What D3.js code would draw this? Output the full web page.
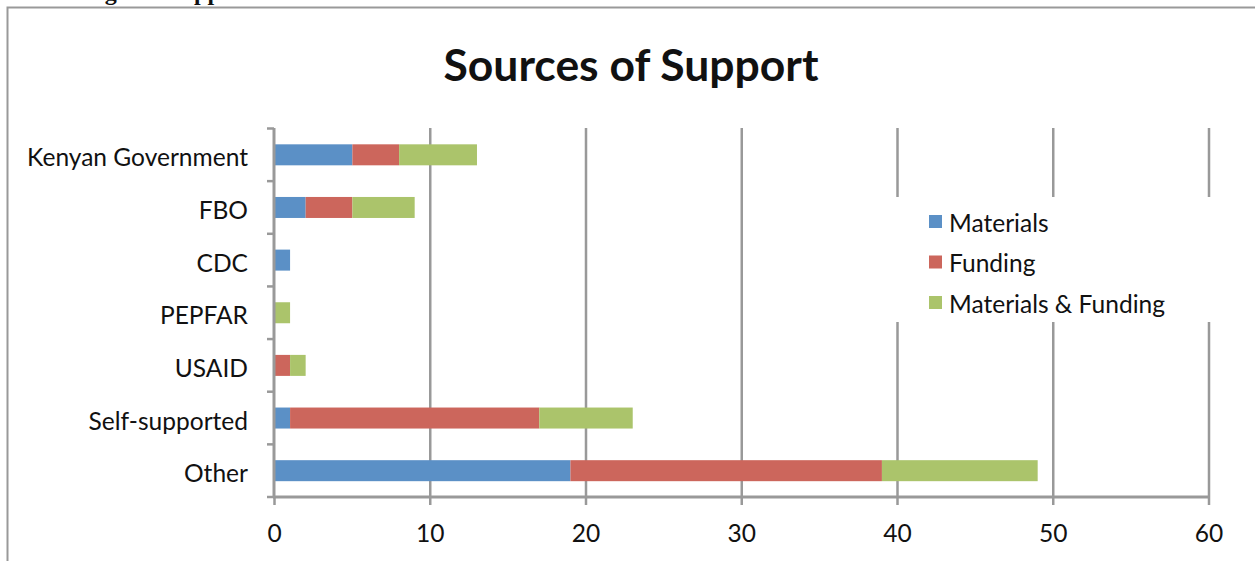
<!DOCTYPE html>
<html>
<head>
<meta charset="utf-8">
<script src="https://cdn.jsdelivr.net/npm/d3@7"></script>
<style>
  body { margin: 0; background: #fff; }
  text { font-family: Lato, "Open Sans", sans-serif; fill: #111; }
</style>
</head>
<body>
<script>
// data
var categories = ["Kenyan Government", "FBO", "CDC", "PEPFAR", "USAID", "Self-supported", "Other"];
var seriesNames = ["Materials", "Funding", "Materials & Funding"];
var materials = [5, 2, 1, 0, 0, 1, 19];
var funding = [3, 3, 0, 0, 1, 16, 20];
var both = [5, 4, 0, 1, 1, 6, 10];
var xTicks = [0, 10, 20, 30, 40, 50, 60];
var colors = ["#5b90c6", "#cc665c", "#abc46b"];

var width = 1255, height = 561;
var svg = d3.select("body").append("svg")
    .attr("width", width)
    .attr("height", height);

// cut-off heading of the page above the chart
svg.append("text")
    .attr("x", 30).attr("y", 0)
    .style("font-family", "'Liberation Serif', serif")
    .style("font-weight", "bold")
    .style("font-size", "24px")
    .text("Funding and Support");

// chart frame
svg.append("rect")
    .attr("x", 7.5).attr("y", 7.5)
    .attr("width", 1260).attr("height", 570)
    .attr("fill", "none")
    .attr("stroke", "#999").attr("stroke-width", 2);

var x = d3.scaleLinear().domain([0, 60]).range([274.5, 1209]);
var y = d3.scaleBand().domain(categories).range([128.5, 497]).padding(0);

var rows = categories.map(function(c, i) {
  return {cat: c, Materials: materials[i], Funding: funding[i], "Materials & Funding": both[i]};
});
var stacked = d3.stack().keys(seriesNames)(rows);

// gridlines
svg.append("g").selectAll("line")
    .data(xTicks.slice(1))
    .enter().append("line")
    .attr("x1", function(d) { return x(d); })
    .attr("x2", function(d) { return x(d); })
    .attr("y1", 128).attr("y2", 497)
    .attr("stroke", "#999").attr("stroke-width", 2.5);

// bars
var barH = 21;
svg.append("g").selectAll("g")
    .data(stacked)
    .enter().append("g")
    .attr("fill", function(d, i) { return colors[i]; })
    .selectAll("rect")
    .data(function(d) { return d; })
    .enter().append("rect")
    .attr("x", function(d) { return x(d[0]); })
    .attr("width", function(d) { return x(d[1]) - x(d[0]); })
    .attr("y", function(d) { return y(d.data.cat) + y.bandwidth() / 2 - barH / 2; })
    .attr("height", barH);

// axes
var axisColor = "#999";
var yAxis = svg.append("g");
yAxis.append("line")
    .attr("x1", 274).attr("x2", 274).attr("y1", 128).attr("y2", 498)
    .attr("stroke", axisColor).attr("stroke-width", 3);
yAxis.selectAll(".tk")
    .data(d3.range(categories.length + 1))
    .enter().append("line")
    .attr("x1", 267).attr("x2", 274)
    .attr("y1", function(d) { return 128.5 + d * y.step(); })
    .attr("y2", function(d) { return 128.5 + d * y.step(); })
    .attr("stroke", axisColor).attr("stroke-width", 2.5);

var labels = yAxis.selectAll(".lbl")
    .data(categories)
    .enter().append("text")
    .attr("x", 248)
    .attr("y", function(d) { return y(d) + y.bandwidth() / 2 + 3; })
    .attr("dy", "0.35em")
    .attr("text-anchor", "end")
    .style("font-size", "22px")
    .text(function(d) { return d; });

var xAxis = svg.append("g");
xAxis.append("line")
    .attr("x1", 273).attr("x2", 1210).attr("y1", 497).attr("y2", 497)
    .attr("stroke", axisColor).attr("stroke-width", 3);
xAxis.selectAll(".tk")
    .data(xTicks)
    .enter().append("line")
    .attr("x1", function(d) { return x(d); })
    .attr("x2", function(d) { return x(d); })
    .attr("y1", 497).attr("y2", 505)
    .attr("stroke", axisColor).attr("stroke-width", 2.5);
var tickLabels = xAxis.selectAll(".lbl")
    .data(xTicks)
    .enter().append("text")
    .attr("x", function(d) { return x(d); })
    .attr("y", 533)
    .attr("dy", "0.35em")
    .attr("text-anchor", "middle")
    .style("font-size", "22px")
    .text(function(d) { return d; });

// fit label font size to the reference width of "Kenyan Government" (~221px)
var kg = labels.filter(function(d) { return d === "Kenyan Government"; }).node();
var fs = 22 * 221 / kg.getComputedTextLength();
labels.style("font-size", fs + "px");
tickLabels.style("font-size", fs + "px");

// title
var title = svg.append("text")
    .attr("x", 631).attr("y", 81)
    .attr("text-anchor", "middle")
    .style("font-weight", "bold")
    .style("font-size", "40px")
    .text("Sources of Support");
var tfs = 40 * 375 / title.node().getComputedTextLength();
title.style("font-size", tfs + "px");

// legend
var legend = svg.append("g");
legend.append("rect")
    .attr("x", 889).attr("y", 197)
    .attr("width", 330).attr("height", 125)
    .attr("fill", "#fff");
var items = legend.selectAll(".item")
    .data(seriesNames)
    .enter().append("g")
    .attr("transform", function(d, i) { return "translate(929," + (222 + i * 40.5) + ")"; });
items.append("rect")
    .attr("x", 0).attr("y", -7)
    .attr("width", 13).attr("height", 13)
    .attr("fill", function(d, i) { return colors[i]; });
items.append("text")
    .attr("x", 20).attr("y", 1)
    .attr("dy", "0.35em")
    .style("font-size", fs + "px")
    .text(function(d) { return d; });
</script>
</body>
</html>
